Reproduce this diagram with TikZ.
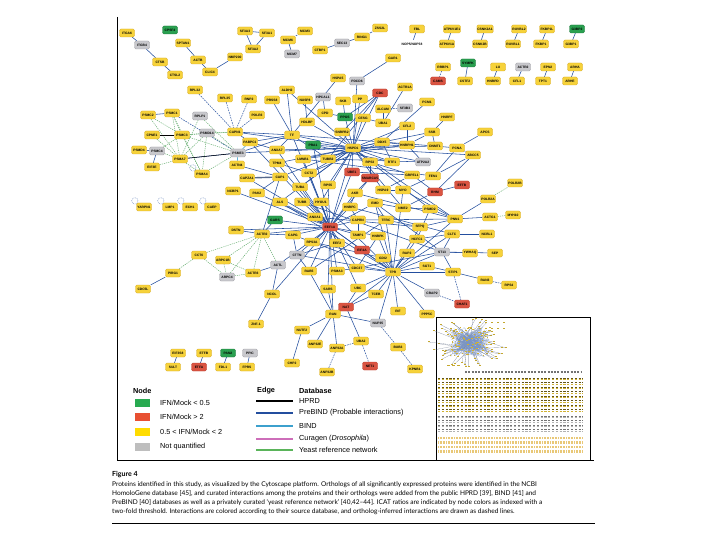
\documentclass[tikz,border=0pt]{standalone}
\usepackage{fontspec}
\setmainfont{Liberation Sans}
\newfontfamily\capfont{Lato}
\pgfdeclarelayer{bglayer}
\pgfdeclarelayer{edgelayer}
\pgfsetlayers{bglayer,edgelayer,main}
\definecolor{nyel}{RGB}{246,210,58}
\definecolor{nyelb}{RGB}{215,170,40}
\definecolor{nred}{RGB}{218,84,66}
\definecolor{nredb}{RGB}{185,60,45}
\definecolor{ngrn}{RGB}{42,160,80}
\definecolor{ngrnb}{RGB}{30,120,60}
\definecolor{ngry}{RGB}{200,200,204}
\definecolor{ngryb}{RGB}{160,160,165}
\definecolor{pbc}{RGB}{35,78,158}
\definecolor{yec}{RGB}{95,170,105}
\definecolor{bic}{RGB}{60,160,205}
\definecolor{lgreen}{RGB}{40,170,80}
\definecolor{lred}{RGB}{232,80,50}
\definecolor{lyel}{RGB}{255,220,0}
\definecolor{lgrey}{RGB}{190,190,190}
\definecolor{curc}{RGB}{205,110,185}
\definecolor{yeastc}{RGB}{90,180,90}
\newcommand\nodefont{\fontsize{3.3}{3.5}\selectfont\bfseries}
\newcommand\legfont{\fontsize{7.3}{8}\selectfont}
\tikzset{
  nd/.style={rounded corners=1.3pt, minimum width=15pt, minimum height=8pt, inner sep=0.4pt, font=\nodefont, line width=0.3pt},
  Y/.style={nd, fill=nyel, draw=nyelb},
  R/.style={nd, fill=nred, draw=nredb},
  Gn/.style={nd, fill=ngrn, draw=ngrnb},
  Gy/.style={nd, fill=ngry, draw=ngryb},
  T/.style={nd, fill=white},
  pb/.style={draw=pbc, line width=0.55pt},
  pbd/.style={draw=pbc, line width=0.5pt, dash pattern=on 1.6pt off 1pt},
  ye/.style={draw=yec, line width=0.45pt, dash pattern=on 1.2pt off 1pt},
  bi/.style={draw=bic, line width=0.55pt},
  hp/.style={draw=black, line width=0.5pt},
  selfloop/.style={draw=pbc!60, line width=0.4pt, dash pattern=on 1pt off 0.8pt},
  legline/.style={line width=2pt},
  legtxt/.style={anchor=west, font=\legfont, inner sep=0pt},
  capline/.style={anchor=west, inner sep=0pt, font=\capfont\fontsize{6.55}{7}\selectfont}
}
\begin{document}
\begin{tikzpicture}[x=1pt,y=-1pt]
\useasboundingbox (0,0) rectangle (720,540);
\begin{pgfonlayer}{bglayer}
\fill[white] (0,0) rectangle (720,540);
\end{pgfonlayer}

% ---------------- frame ----------------
\draw[line width=0.8pt] (117,17) -- (117,460) -- (594,460);
\draw[line width=0.6pt] (436,460) -- (436,317) -- (590,317) -- (590,460);

% ---------------- nodes ----------------
\node[Y] (itga6) at (127,33) {ITGA6};
\node[Gy] (itgb4) at (142,45) {ITGB4};
\node[Gn] (cpsf4) at (170,30) {CPSF4};
\node[Y] (sptan1) at (183,43) {SPTAN1};
\node[Y] (ctsb) at (160,62) {CTSB};
\node[Y] (actb1) at (198,60) {ACTB};
\node[Y] (ctsl2) at (175,75) {CTSL2};
\node[Y] (clic4) at (210,72) {CLIC4};
\node[Y] (sfa3) at (245,31) {SF3A3};
\node[Y] (sfa1) at (267,33) {SF3A1};
\node[Y] (sfa2) at (253,49) {SF3A2};
\node[Y] (hmp) at (235,57) {NMP200};
\node[Y] (mcm3) at (305,31) {MCM3};
\node[Y] (mcm6) at (288,40) {MCM6};
\node[Gy] (mcm7) at (292,54) {MCM7};
\node[Y] (ctbp1) at (320,50) {CTBP1};
\node[Gy] (seac) at (342,43) {SEC13};
\node[Y] (ring1) at (362,37) {RING1};
\node[Y] (zss) at (380,28) {ZSS2L};
\node[Y] (fbl) at (417,29) {FBL};
\node[T, draw=none] (nop) at (412,44) {NOP5/NOP58};
\node[Y] (gar1) at (393,58) {GAR1};
\node[Y] (atpe) at (452,29) {ATP6V1E1};
\node[Y] (atpa) at (447,44) {ATP6V1A};
\node[Y] (cska) at (485,29) {CSNK2A1};
\node[Y] (cskb) at (480,44) {CSNK2B};
\node[Y] (ruv2) at (519,29) {RUVBL2};
\node[Y] (ruv1) at (513,44) {RUVBL1};
\node[Y] (fkl) at (547,29) {FKBP1L};
\node[Y] (fk1) at (541,44) {FKBP1};
\node[Gn] (seav) at (577,29) {G3BP2};
\node[Y] (gsap) at (571,44) {G3BP1};
\node[Y] (rrbp) at (443,67) {RRBP1};
\node[R] (cams) at (438,81) {CAMS};
\node[Gn] (sympk) at (468,63) {SYMPK};
\node[Y] (cstf2) at (465,81) {CSTF2};
\node[Y] (lu) at (498,67) {LU};
\node[Y] (hnrpd2) at (493,81) {HNRPD};
\node[Gy] (actrb) at (523,67) {ACTR2};
\node[Y] (cfl1) at (517,81) {CFL1};
\node[Y] (epn) at (548,67) {EPN2};
\node[Y] (tpt) at (543,81) {TPT1};
\node[Y] (arha) at (575,67) {ARHA};
\node[Y] (arhe) at (570,81) {ARHE};

\node[Y] (rpl32) at (195,90) {RPL32};
\node[Y] (rpl35) at (225,98) {RPL35};
\node[Y] (rnp2) at (249,99) {RNP2};
\node[Y] (prss) at (272,100) {PRSS8};
\node[Y] (aldh2) at (287,90) {ALDH2};
\node[Y] (polr3) at (257,115) {POLR3};
\node[Y] (psmc2) at (148,115) {PSMC2};
\node[Y] (psmc1) at (172,113) {PSMC1};
\node[Gy] (rplp1) at (200,116) {RPLP1};
\node[Y] (cpne1) at (152,135) {CPNE1};
\node[Y] (psmc3) at (182,135) {PSMC3};
\node[Gy] (psmd14) at (207,133) {PSMD14};
\node[Y] (capn1) at (235,132) {CAPN1};
\node[Y] (psmd4) at (139,150) {PSMD4};
\node[Gy] (psmc4) at (157,151) {PSMC4};
\node[Y] (psma7) at (180,159) {PSMA7};
\node[Y] (eif3e) at (152,167) {EIF3E};
\node[Y] (psma4) at (202,174) {PSMA4};
\node[Gy] (psme3) at (238,153) {PSME3};
\node[Y] (pabpc1) at (250,142) {PABPC1};
\node[Y] (actn4) at (237,165) {ACTN4};
\node[Y] (capza1) at (247,178) {CAPZA1};
\node[Y] (ncbp1) at (233,191) {NCBP1};
\node[Y] (pak2) at (257,193) {PAK2};
\node[Y] (yarp) at (144,207) {YARPN1};
\node[Y] (lmp1) at (170,207) {LMP1};
\node[Y] (ech1) at (190,207) {ECH1};
\node[Y] (caep) at (212,207) {CAEP};
\node[Y] (dstn) at (236,230) {DSTN};
\node[Y] (actr2) at (262,234) {ACTR2};
\node[Gn] (gars) at (275,220) {GARS};
\node[Y] (cap1) at (280,177) {CAP1};
\node[Y] (anxa7) at (277,150) {ANXA7};
\node[Y] (tpm4) at (277,163) {TPM4};

\node[Y] (hspa5) at (338,78) {HSPA5};
\node[Gy] (pdcd6) at (357,81) {PDCD6};
\node[Y] (nusp) at (305,100) {NUSP8};
\node[Gy] (hpcal) at (323,97) {HPCAL1};
\node[Y] (cpd) at (325,113) {CPD};
\node[Y] (skb) at (343,101) {SKB};
\node[Y] (pp) at (360,99) {PP};
\node[R] (cdc) at (380,93) {CDC};
\node[Y] (actr1a) at (405,87) {ACTR1A};
\node[Gy] (sf3b3) at (405,108) {SF3B3};
\node[Y] (alcam) at (383,109) {ALCAM};
\node[Y] (pcm1) at (427,102) {PCM1};
\node[Y] (hnrpf) at (447,117) {HNRPF};
\node[Y] (uba1) at (383,123) {UBA1};
\node[Y] (cfl2) at (407,126) {CFL2};

\node[Y] (hdlbp) at (307,122) {HDLBP};
\node[Gn] (ppgs) at (345,117) {PPGS};
\node[Y] (cesg) at (363,118) {CESG};
\node[Y] (tf) at (292,135) {TF};
\node[Y] (snrpb2) at (342,132) {SNRPB2};
\node[Gn] (pra1) at (313,145) {PRA1};
\node[Y] (lmnb1) at (303,159) {LMNB1};
\node[Y] (tubb2) at (328,159) {TUBB2};
\node[Y] (hspd1) at (353,148) {HSPD1};
\node[Y] (ddx5) at (382,142) {DDX5};
\node[Y] (hnrph1) at (407,145) {HNRPH1};
\node[Y] (ssb) at (432,132) {SSB};
\node[Y] (dnmt1) at (435,146) {DNMT1};
\node[Y] (pcna) at (457,148) {PCNA};
\node[Y] (apcs) at (485,132) {APCS};
\node[Y] (abcc5) at (473,155) {ABCC5};
\node[Y] (cct2) at (309,173) {CCT2};
\node[R] (ube1) at (352,172) {UBE1};
\node[R] (smarca) at (370,178) {SMARCA5};
\node[Y] (rps3) at (370,162) {RPS3};
\node[Y] (rtf1) at (392,162) {RTF1};
\node[Gy] (atp2a2) at (423,162) {ATP2A2};
\node[Y] (grpel) at (412,175) {GRPEL1};
\node[Y] (fen1) at (433,176) {FEN1};
\node[R] (rhm) at (435,192) {RHM};
\node[R] (eftb) at (462,185) {EFTB};
\node[Y] (rps5) at (328,185) {RPS5};
\node[Y] (tuba) at (300,187) {TUBA};
\node[Y] (akr) at (355,193) {AKR};
\node[Y] (hspa9) at (383,190) {HSPA9};
\node[Y] (myo) at (403,190) {MYO};
\node[Y] (als) at (280,202) {ALS};
\node[Y] (tubb) at (302,202) {TUBB};
\node[Y] (hyou1) at (321,202) {HYOU1};
\node[Y] (hnrpc) at (350,207) {HNRPC};
\node[Y] (emd) at (375,203) {EMD};
\node[Y] (nme2) at (403,208) {NME2};
\node[Y] (psmd2) at (430,209) {PSMD2};
\node[Y] (anxa1) at (315,217) {ANXA1};
\node[Y] (caprn) at (358,220) {CAPRN};
\node[Y] (tfrc) at (386,220) {TFRC};
\node[Y] (sfpq) at (420,227) {SFPQ};
\node[Y] (hcfc1) at (417,239) {HCFC1};
\node[Y] (capg) at (293,235) {CAPG};
\node[R] (eef1a) at (330,227) {EEF1A};
\node[Y] (tamp1) at (358,235) {TAMP1};
\node[Y] (hnrpk) at (378,236) {HNRPK};
\node[Y] (eef2) at (337,243) {EEF2};
\node[Y] (rps3a) at (312,242) {RPS3A};
\node[R] (eif4a) at (362,250) {EIF4A};
\node[Y] (polr2b) at (515,183) {POLR2B};
\node[Y] (polr2a) at (488,199) {POLR2A};
\node[Y] (actg1) at (490,217) {ACTG1};
\node[Y] (myh10) at (513,215) {MYH10};
\node[Y] (pnn1) at (455,219) {PNN1};
\node[Y] (cltc) at (452,234) {CLTC};
\node[Y] (actl6b) at (487,234) {NCBL1};
\node[Gy] (st13) at (442,252) {ST13};
\node[Y] (ywhaq) at (470,253) {YWHAQ};
\node[Y] (sep) at (495,253) {SEP};
\node[Y] (stip1) at (453,272) {STIP1};
\node[Y] (ran3) at (485,280) {RAN3};
\node[Y] (rps4) at (509,285) {RPS4};
\node[Gy] (crap2) at (432,293) {CRAP2};
\node[R] (chaf1) at (462,304) {CHAF1};
\node[Y] (ppp5c) at (427,314) {PPP5C};
\node[Gy] (cttn) at (297,255) {CTTN};
\node[Y] (gdi2) at (383,258) {GDI2};
\node[Y] (rap2) at (407,253) {RAP2};
\node[Y] (sgt1) at (427,266) {SGT1};
\node[Gy] (actl) at (278,265) {ACTL};
\node[Y] (rab5) at (309,271) {RAB5};
\node[Y] (psma3) at (337,271) {PSMA3};
\node[Y] (cdc37) at (357,268) {CDC37};
\node[Y] (tpr) at (393,272) {TPR};
\node[Y] (sars) at (328,289) {SARS};
\node[Y] (ubc) at (358,288) {UBC};
\node[Y] (tceb) at (376,294) {TCEB};
\node[Y] (ncol) at (272,294) {NCOL};
\node[R] (actb2) at (346,307) {NAT};
\node[Y] (ran) at (333,314) {RAN};
\node[Y] (rif) at (398,311) {RIF};
\node[Gy] (nup35) at (378,323) {NUP35};
\node[Y] (nutf2) at (302,330) {NUTF2};
\node[Y] (anp32e) at (315,344) {ANP32E};
\node[Y] (anp32a) at (337,348) {ANP32A};
\node[Y] (uba2) at (361,341) {UBA2};
\node[Y] (bub3) at (398,347) {BUB3};
\node[Y] (chp2) at (292,363) {CHP2};
\node[Y] (anp32b) at (327,372) {ANP32B};
\node[R] (net1) at (370,366) {NET1};
\node[Y] (kpnb1) at (415,369) {KPNB1};
\node[Y] (cct6) at (199,255) {CCT6};
\node[Y] (arpc1b) at (223,260) {ARPC1B};
\node[Gy] (arpc4) at (227,277) {ARPC4};
\node[Y] (actr3) at (253,273) {ACTR3};
\node[Y] (pirg1) at (173,273) {PIRG1};
\node[Y] (cdc5l) at (143,289) {CDC5L};
\node[Y] (znf1) at (256,324) {ZNF-1};
\node[Y] (eif3s8) at (178,353) {EIF3S8};
\node[Y] (etfb) at (204,353) {ETFB};
\node[Gn] (pan2) at (228,353) {PAN2};
\node[Gy] (ppic) at (250,353) {PPIC};
\node[Y] (sult) at (173,367) {SULT};
\node[R] (etfa) at (199,367) {ETFA};
\node[Y] (fdl1) at (223,367) {FDL1};
\node[Y] (fprs) at (247,367) {FPRS};

% ---------------- edges ----------------
\begin{pgfonlayer}{edgelayer}
\foreach \a/\b in {itga6/itgb4, itgb4/ctsb, ctsb/ctsl2, sptan1/actb1, actb1/clic4, clic4/hmp, sfa3/sfa1, sfa3/sfa2, sfa1/sfa2, mcm3/mcm6, mcm6/mcm7, ctbp1/seac, seac/ring1, ring1/zss, fbl/nop, gar1/pdcd6, atpe/atpa, cska/cskb, ruv2/ruv1, fkl/fk1, seav/gsap, sympk/cstf2, lu/hnrpd2, actrb/cfl1, epn/tpt, arha/arhe,
 eif3s8/sult, etfb/etfa, pan2/fdl1, ppic/fprs,
 psmd4/psmc4, psmc4/eif3e, psmc2/psmc1, psme3/psma7, psme3/hspd1, psme3/tf, capn1/tf, capn1/pabpc1, pabpc1/anxa7, pabpc1/tf, actn4/cap1, ncbp1/eef1a, pak2/eef1a, pak2/cap1, anxa7/tf, tpm4/cct2, tpm4/hspd1,
 actr2/dstn, actr2/gars, actr2/cap1, actr2/capg, actr3/actl, pirg1/cdc5l, ncol/znf1, ncol/actl, cttn/eef2, cttn/capg, cttn/rab5, actl/eef1a,
 pdcd6/hspd1, hspa5/tf, nusp/hdlbp, aldh2/tf, aldh2/hspd1, hpcal/cpd, cpd/ppgs, skb/ppgs, pp/hspd1, cdc/ppgs, cdc/hspd1, cdc/snrpb2, cdc/tubb2, actr1a/uba1, alcam/uba1, uba1/cesg, pcm1/ddx5, hnrpf/ssb, cfl2/hnrph1, cfl2/hspd1, prss/tf,
 hspd1/tf, hspd1/hdlbp, hspd1/ppgs, hspd1/cesg, hspd1/snrpb2, hspd1/pra1, hspd1/lmnb1, hspd1/tubb2, hspd1/ddx5, hspd1/hnrph1, hspd1/rps3, hspd1/rtf1, hspd1/ube1, hspd1/cap1, hspd1/anxa7, hspd1/eef1a, hspd1/hspa9, hspd1/nme2, hspd1/pnn1, hspd1/atp2a2, hspd1/hyou1, hspd1/dnmt1, hspd1/ssb, hspd1/cct2, hspd1/als, hspd1/psmd2, hspd1/abcc5,
 eef1a/cct2, eef1a/rps5, eef1a/tuba, eef1a/als, eef1a/tubb, eef1a/hyou1, eef1a/anxa1, eef1a/capg, eef1a/rps3a, eef1a/eef2, eef1a/tamp1, eef1a/hnrpk, eef1a/eif4a, eef1a/hnrpc, eef1a/caprn, eef1a/akr, eef1a/gars, eef1a/actr2, eef1a/cttn, eef1a/rab5, eef1a/psma3, eef1a/sars, eef1a/ran, eef1a/cdc37, eef1a/tpr, eef1a/tf, eef1a/lmnb1, eef1a/pra1, eef1a/ube1, eef1a/smarca, eef1a/emd, eef1a/capza1, eef1a/dstn, eef1a/ncol, eef1a/tpm4, eef1a/anxa7, eef1a/ubc,
 tpr/tceb, tpr/rif, tpr/ppp5c, tpr/crap2, tpr/sgt1, tpr/gdi2, tpr/rap2, tpr/cdc37, tpr/st13, tpr/stip1, tpr/ubc, tpr/actb2, tpr/nup35, tpr/hcfc1, tpr/sfpq, tpr/pnn1, tpr/cltc, tpr/tfrc, tpr/myo, tpr/emd, tpr/eif4a, tpr/hnrpk,
 ddx5/hnrph1, ddx5/dnmt1, hnrph1/ssb, ssb/dnmt1, dnmt1/pcna, pcna/apcs, pcna/abcc5, abcc5/rhm, abcc5/fen1, fen1/pcna, rhm/eftb, rhm/grpel, rhm/nme2, grpel/rps3, atp2a2/hnrph1, rtf1/ddx5, rps3/smarca, smarca/akr, akr/hnrpc, hnrpc/caprn, caprn/tamp1, tfrc/sfpq, tfrc/emd, emd/nme2, nme2/psmd2, psmd2/pnn1, psmd2/hcfc1, hcfc1/cltc, sfpq/pnn1, myo/pnn1, myo/fen1, hspa9/myo, hspa9/grpel, pnn1/polr2a, pnn1/actg1, cltc/actl6b, cltc/st13, st13/ywhaq, st13/sep, st13/stip1, stip1/sgt1, stip1/ran3,
 sars/ran, ran/nutf2, ran/anp32e, ran/anp32a, ran/nup35, ran/actb2, nutf2/chp2, uba2/actb2, actb2/tceb, ubc/actb2, psma3/cdc37, rab5/ran, cdc37/hnrpk, cdc37/st13,
 tf/ddx5, tf/tubb2, lmnb1/hnrph1, pra1/rtf1, tubb2/atp2a2, tuba/hspd1, rps5/hspd1, cct2/ddx5, hyou1/tpr, caprn/pnn1, akr/pnn1, hnrpc/cltc, capg/tpr, cttn/tpr, rab5/tfrc, st13/emd, als/tpr, ube1/grpel, lmnb1/fen1, tubb/st13, anxa1/sfpq, rps3a/gdi2, capn1/hspd1, pabpc1/eef1a}
  \draw[pb] (\a) -- (\b);
\foreach \a/\b in {rpl32/capn1, rpl35/capn1, rnp2/capn1, polr3/capn1, ran3/rps4, stip1/chaf1, crap2/chaf1, nup35/bub3, bub3/kpnb1, uba2/net1, rrbp/cams, sf3b3/alcam, psmc1/psme3, anp32a/uba2, anp32b/anp32a}
  \draw[pbd] (\a) -- (\b);
\foreach \a/\b in {psmc2/psmc3, psmc2/psma7, psmc1/psmc3, psmc1/psma7, psmc1/psma4, psmc3/psmd14, psmc3/psma4, psmc3/psme3, psmd14/psma7, psmd14/psma4, psmd14/psme3, psma7/psma4, cpne1/psma7, psmc4/psma7, psmc4/psmc3, psma4/psme3, rplp1/psma7, rplp1/psme3, eif3e/psma7, polr2a/polr2b, actg1/myh10, cct6/actr2, arpc1b/actr2, arpc4/actr2, actr3/actr2, actl/actr2, arpc1b/actr3, arpc4/actr3, arpc1b/arpc4, cct6/pirg1, cct6/arpc4, psmd14/capn1, psmc3/capn1}
  \draw[ye] (\a) -- (\b);
\foreach \a/\b in {actn4/psme3, pabpc1/psme3}
  \draw[bi] (\a) -- (\b);
\foreach \a/\b in {psma7/psme3, cpne1/psmc3}
  \draw[hp] (\a) -- (\b);
\draw[draw=pbc!45!gray, line width=1.4pt] (capza1) -- (cap1);
\foreach \n in {yarp, lmp1, ech1, caep, psma4}
  \draw[selfloop] ([shift={(-1.5,-2)}]\n.north west) circle (3.2pt);
\end{pgfonlayer}

% ---------------- inset thumbnail ----------------
\begin{scope}
\pgfmathsetseed{7}
\foreach \i in {1,...,55}{
  \pgfmathsetmacro\ang{360*rnd}
  \pgfmathsetmacro\rr{18+14*rnd}
  \pgfmathsetmacro\xe{468+1.25*\rr*cos(\ang)}
  \pgfmathsetmacro\ye{343+0.8*\rr*sin(\ang)}
  \pgfmathsetmacro\xs{468+8*rand}
  \pgfmathsetmacro\ys{343+6*rand}
  \draw[draw=gray!70!pbc, line width=0.12pt] (\xs,\ys) -- (\xe,\ye);
  \fill[nyel!80!black] (\xe-1,\ye-0.5) rectangle (\xe+1,\ye+0.5);
}
\foreach \i in {1,...,240}{
  \pgfmathsetmacro\xa{470+20*rand}
  \pgfmathsetmacro\ya{342+15*rand}
  \pgfmathsetmacro\xb{470+13*rand}
  \pgfmathsetmacro\yb{342+10*rand}
  \draw[draw=pbc!60, line width=0.1pt] (\xa,\ya) -- (\xb,\yb);
}
\foreach \i in {1,...,90}{
  \pgfmathsetmacro\xa{470+20*rand}
  \pgfmathsetmacro\ya{342+15*rand}
  \fill[nyel!85!black] (\xa-0.8,\ya-0.4) rectangle (\xa+0.8,\ya+0.4);
}
\foreach \xx in {480,486,...,504}{
  \fill[nyel!80!black] (\xx-1.3,321.5) rectangle (\xx+1.3,322.5);
  \fill[nyel!80!black] (\xx-1.3,327.5) rectangle (\xx+1.3,328.5);
}
\foreach \xx in {448,453,458}{
  \fill[nyel!80!black] (\xx-1.5,364.5) rectangle (\xx+1.5,365.5);
}
\draw[line width=1.1pt, draw=black!55, dash pattern=on 2pt off 1.3pt] (465,372) -- (582,372);
\foreach \yy in {379,383.5,...,412}{
  \draw[line width=0.9pt, draw=black!60!nyel, dash pattern=on 2.2pt off 1.6pt] (438,\yy-0.9) -- (583,\yy-0.9);
  \draw[line width=0.9pt, draw=nyel!85!black, dash pattern=on 2.2pt off 1.6pt] (438,\yy+0.9) -- (583,\yy+0.9);
}
\foreach \yy in {417,421.5,...,433}{
  \draw[line width=0.9pt, draw=black!55, dash pattern=on 2.2pt off 1.6pt] (438,\yy-0.8) -- (583,\yy-0.8);
  \draw[line width=0.9pt, draw=gray!60, dash pattern=on 2.2pt off 1.6pt] (438,\yy+0.8) -- (583,\yy+0.8);
}
\foreach \yy in {438,442.5,...,455}{
  \draw[line width=2.2pt, draw=nyel!60!brown!70, dash pattern=on 1pt off 0.6pt] (438,\yy) -- (583,\yy);
}
\end{scope}

% ---------------- legend ----------------
\node[legtxt, font=\legfont\bfseries] (lnode) at (133,391) {Node};
\node[fill=lgreen, minimum width=15pt, minimum height=8pt, inner sep=0pt] (sq1) at (142.5,403) {};
\node[fill=lred, minimum width=15pt, minimum height=8pt, inner sep=0pt] (sq2) at (142.5,417) {};
\node[fill=lyel, minimum width=15pt, minimum height=8pt, inner sep=0pt] (sq3) at (142.5,432) {};
\node[fill=lgrey, minimum width=15pt, minimum height=8pt, inner sep=0pt] (sq4) at (142.5,447) {};
\node[legtxt] (t1) at (160,403) {IFN/Mock < 0.5};
\node[legtxt] (t2) at (160,417) {IFN/Mock > 2};
\node[legtxt] (t3) at (160,432) {0.5 < IFN/Mock < 2};
\node[legtxt] (t4) at (160,447) {Not quantified};
\node[legtxt, font=\legfont\bfseries] (ledge) at (257,391) {Edge};
\node[legtxt, font=\legfont\bfseries] (ldb) at (299,391) {Database};
\coordinate (l1a) at (256,401); \coordinate (l1b) at (293,401);
\coordinate (l2a) at (256,413); \coordinate (l2b) at (293,413);
\coordinate (l3a) at (256,426); \coordinate (l3b) at (293,426);
\coordinate (l4a) at (256,439); \coordinate (l4b) at (293,439);
\coordinate (l5a) at (256,450); \coordinate (l5b) at (293,450);
\draw[legline, black] (l1a) -- (l1b);
\draw[legline, pbc] (l2a) -- (l2b);
\draw[legline, bic] (l3a) -- (l3b);
\draw[legline, curc] (l4a) -- (l4b);
\draw[legline, yeastc] (l5a) -- (l5b);
\node[legtxt] (d1) at (299,401) {HPRD};
\node[legtxt] (d2) at (299,413) {PreBIND (Probable interactions)};
\node[legtxt] (d3) at (299,426) {BIND};
\node[legtxt] (d4) at (299,439) {Curagen (\textit{Drosophila})};
\node[legtxt] (d5) at (299,450) {Yeast reference network};

% ---------------- caption ----------------
\node[capline, font=\capfont\fontsize{7}{8}\selectfont\bfseries] (fig) at (112,475) {Figure 4};
\node[capline] (c1) at (112,484.5) {Proteins identified in this study, as visualized by the Cytoscape platform. Orthologs of all significantly expressed proteins were identified in the NCBI};
\node[capline] (c2) at (112,493.5) {HomoloGene database [45], and curated interactions among the proteins and their orthologs were added from the public HPRD [39], BIND [41] and};
\node[capline] (c3) at (112,502.5) {PreBIND [40] databases as well as a privately curated ‘yeast reference network’ [40,42–44]. ICAT ratios are indicated by node colors as indexed with a};
\node[capline] (c4) at (112,511.5) {two-fold threshold. Interactions are colored according to their source database, and ortholog-inferred interactions are drawn as dashed lines.};
\draw[line width=0.8pt] (112,523) -- (595,523);
\end{tikzpicture}
\end{document}
